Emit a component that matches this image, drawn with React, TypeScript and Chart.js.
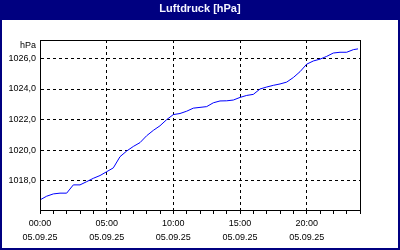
import React, { useEffect, useRef } from 'react';
import { Chart, registerables } from 'chart.js';

Chart.register(...registerables);

const TITLE = 'Luftdruck [hPa]';
const UNIT = 'hPa';
const DATE_LABEL = '05.09.25';

const hours = [
  0, 0.5, 1, 1.5, 2, 2.5, 3, 3.5, 4, 4.5, 5, 5.5, 6, 6.5, 7, 7.5, 8, 8.5, 9, 9.5,
  10, 10.5, 11, 11.5, 12, 12.5, 13, 13.5, 14, 14.5, 15, 15.5, 16, 16.5, 17, 17.5,
  18, 18.5, 19, 19.5, 20, 20.5, 21, 21.5, 22, 22.5, 23, 23.5, 23.85,
];
const pressure = [
  1016.76, 1017.0, 1017.15, 1017.2, 1017.2, 1017.74, 1017.74, 1017.95, 1018.17, 1018.35,
  1018.6, 1018.85, 1019.58, 1019.95, 1020.25, 1020.5, 1020.95, 1021.3, 1021.6, 1022.0,
  1022.33, 1022.4, 1022.55, 1022.75, 1022.8, 1022.85, 1023.1, 1023.22, 1023.23, 1023.28,
  1023.45, 1023.58, 1023.65, 1024.0, 1024.13, 1024.24, 1024.33, 1024.45, 1024.75, 1025.13,
  1025.62, 1025.83, 1025.95, 1026.13, 1026.35, 1026.4, 1026.4, 1026.57, 1026.62,
];
const yTickValues = [1018, 1020, 1022, 1024, 1026];
const xTickHours = [0, 1, 2, 3, 4, 5, 6, 7, 8, 9, 10, 11, 12, 13, 14, 15, 16, 17, 18, 19, 20, 21, 22, 23, 24];
const xLabelHours = [0, 5, 10, 15, 20];

const NAVY = '#000080';
const FONT = '"Liberation Sans", Arial, sans-serif';

function pad2(n: number) {
  return (n < 10 ? '0' : '') + n;
}

export default function App() {
  const ref = useRef<HTMLCanvasElement>(null);

  useEffect(() => {
    const canvas = ref.current;
    if (!canvas) return;

    const framePlugin = {
      id: 'frame',
      beforeDraw(chart: any) {
        const { ctx, width, height } = chart;
        ctx.save();
        ctx.fillStyle = NAVY;
        ctx.fillRect(0, 0, width, height);
        ctx.fillStyle = '#ffffff';
        ctx.fillRect(2, 20, width - 4, height - 22);
        ctx.fillStyle = '#f4f4ff';
        ctx.font = 'bold 11px ' + FONT;
        ctx.textAlign = 'center';
        ctx.textBaseline = 'middle';
        ctx.fillText(TITLE, width / 2, 9);
        ctx.restore();
      },
      afterDraw(chart: any) {
        const { ctx, chartArea: a } = chart;
        ctx.save();
        ctx.strokeStyle = '#000000';
        ctx.lineWidth = 1;
        ctx.strokeRect(a.left + 0.5, a.top + 0.5, a.right - a.left, a.bottom - a.top);
        ctx.fillStyle = '#000000';
        ctx.font = '9px ' + FONT;
        ctx.textAlign = 'right';
        ctx.textBaseline = 'alphabetic';
        ctx.fillText(UNIT, a.left - 4, a.top + 7.5);
        ctx.restore();
      },
    };

    const chart = new Chart(canvas, {
      type: 'line',
      data: {
        datasets: [
          {
            data: hours.map((h, i) => ({ x: h, y: pressure[i] })),
            borderColor: '#0000ff',
            borderWidth: 1,
            pointRadius: 0,
            tension: 0,
            fill: false,
          },
        ],
      },
      options: {
        animation: false,
        responsive: false,
        devicePixelRatio: 1,
        layout: { padding: { top: 40, right: 40, left: 0, bottom: 0 } },
        plugins: {
          legend: { display: false },
          title: { display: false },
          tooltip: { enabled: false },
        },
        scales: {
          x: {
            type: 'linear',
            min: 0,
            max: 24,
            afterFit(scale: any) {
              scale.height = 40;
            },
            afterBuildTicks(scale: any) {
              scale.ticks = xTickHours.map((v) => ({ value: v }));
            },
            ticks: {
              autoSkip: false,
              maxRotation: 0,
              minRotation: 0,
              padding: 3,
              color: '#000000',
              font: { family: FONT, size: 9, lineHeight: 14 / 9 },
              callback: (v: any) =>
                xLabelHours.includes(Number(v)) ? [pad2(Number(v)) + ':00', DATE_LABEL] : '',
            },
            grid: {
              color: (c: any) =>
                c.tick && xLabelHours.includes(c.tick.value) && c.tick.value !== 0
                  ? '#000000'
                  : 'rgba(0,0,0,0)',
              tickColor: '#000000',
              tickLength: 4,
              lineWidth: 1,
            },
            border: { display: true, color: '#000000', dash: [3, 3] },
          },
          y: {
            type: 'linear',
            min: 1016.1,
            max: 1027.2,
            afterFit(scale: any) {
              scale.width = 40;
            },
            afterBuildTicks(scale: any) {
              scale.ticks = yTickValues.map((v) => ({ value: v }));
            },
            ticks: {
              padding: 4,
              color: '#000000',
              font: { family: FONT, size: 9 },
              callback: (v: any) => Number(v).toFixed(1).replace('.', ','),
            },
            grid: {
              color: '#000000',
              drawTicks: false,
              lineWidth: 1,
            },
            border: { display: true, color: '#000000', dash: [3, 3] },
          },
        },
      },
      plugins: [framePlugin],
    });

    return () => chart.destroy();
  }, []);

  return (
    <div style={{ position: 'fixed', left: 0, top: 0, width: 400, height: 250 }}>
      <canvas ref={ref} width={400} height={250} style={{ width: 400, height: 250, display: 'block' }} />
    </div>
  );
}
